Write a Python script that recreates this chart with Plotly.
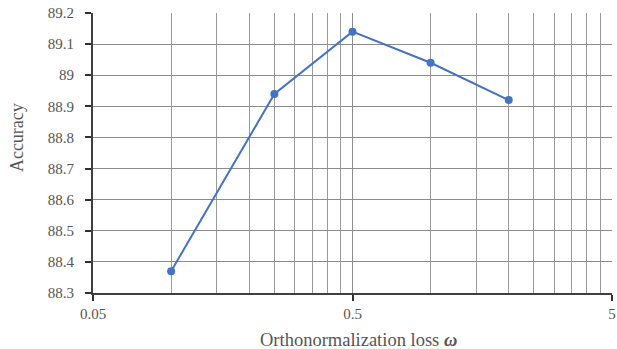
import math
import plotly.graph_objects as go

omega = [0.1, 0.25, 0.5, 1.0, 2.0]
accuracy = [88.37, 88.94, 89.14, 89.04, 88.92]
x_major = [0.05, 0.5, 5]
x_major_text = ["0.05", "0.5", "5"]
y_ticks = [88.3, 88.4, 88.5, 88.6, 88.7, 88.8, 88.9, 89.0, 89.1, 89.2]
y_text = ["88.3", "88.4", "88.5", "88.6", "88.7", "88.8", "88.9", "89", "89.1", "89.2"]
minor_mult = [2, 3, 4, 5, 6, 7, 8, 9]
x_minor = [b * m for b in [0.05, 0.5] for m in minor_mult]
x_title = "Orthonormalization loss <b><i>ω</i></b>"
y_title = "Accuracy"

FONT = "Liberation Serif, serif"
TXT = "#555555"

fig = go.Figure()
fig.add_trace(go.Scatter(
    x=omega, y=accuracy, mode="lines+markers",
    line=dict(color="#4472C4", width=2),
    marker=dict(color="#4472C4", size=8),
    showlegend=False,
))
fig.update_layout(
    width=617, height=349,
    margin=dict(l=93, r=5, t=13, b=56, autoexpand=False),
    paper_bgcolor="white", plot_bgcolor="white",
    font=dict(family=FONT, size=15, color=TXT),
)
fig.update_xaxes(
    type="log", range=[math.log10(0.05), math.log10(5)],
    automargin=False,
    tickmode="array", tickvals=x_major, ticktext=x_major_text,
    showgrid=True, gridcolor="#8c8c8c", gridwidth=1,
    showline=True, linecolor="#404040", linewidth=2,
    ticks="outside", ticklen=6, tickcolor="#303030", tickwidth=1.5,
    zeroline=False, mirror=False,
    minor=dict(tickmode="array", tickvals=x_minor, showgrid=True,
               gridcolor="#9a9a9a", gridwidth=1, ticks=""),
    tickfont=dict(family=FONT, size=15, color=TXT),
)
fig.update_yaxes(
    range=[88.3, 89.2],
    automargin=False,
    tickmode="array", tickvals=y_ticks, ticktext=y_text,
    showgrid=True, gridcolor="#8c8c8c", gridwidth=1,
    showline=True, linecolor="#404040", linewidth=2,
    ticks="outside", ticklen=6, tickcolor="#303030", tickwidth=1.5,
    ticklabelstandoff=8,
    zeroline=False,
    tickfont=dict(family=FONT, size=15, color=TXT),
)
fig.add_annotation(text=x_title, xref="paper", yref="paper", x=0.511, y=-0.168,
                   xanchor="center", yanchor="middle", showarrow=False,
                   font=dict(family=FONT, size=18.5, color=TXT))
fig.add_annotation(text=y_title, xref="paper", yref="paper", x=-0.146, y=0.554,
                   xanchor="center", yanchor="middle", showarrow=False, textangle=-90,
                   font=dict(family=FONT, size=18, color=TXT))
fig.write_html("out.html", config={"displayModeBar": False},
               post_script="document.body.style.margin='0';document.body.style.padding='0';")
